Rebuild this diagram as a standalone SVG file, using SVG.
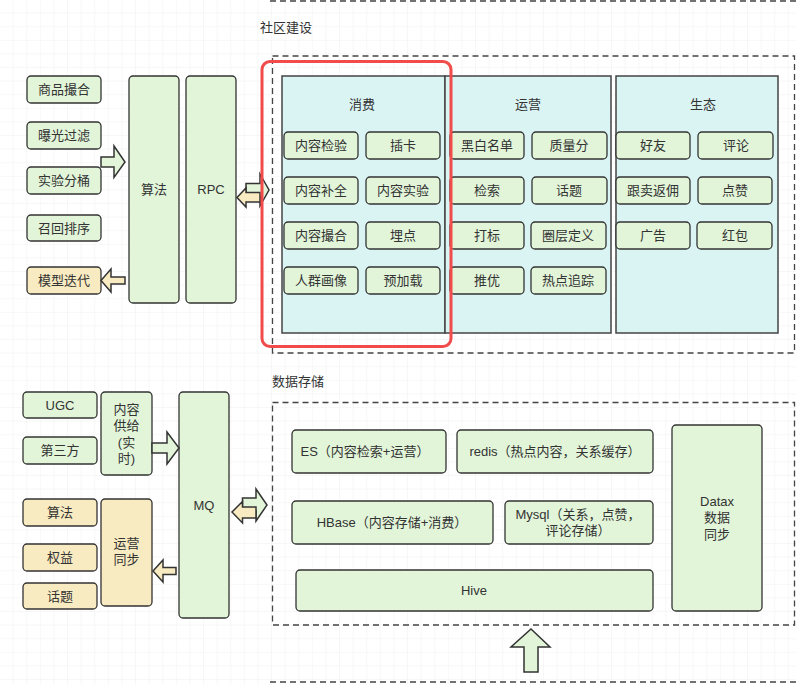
<svg xmlns="http://www.w3.org/2000/svg" width="796" height="685" viewBox="0 0 796 685">
<style>
text{font-family:"Liberation Sans","Noto Sans CJK SC",sans-serif;font-size:13px;fill:#333;text-anchor:middle;dominant-baseline:central}
.lbl{text-anchor:start}
.g{fill:#e2f5d9;stroke:#333;stroke-width:1.3}
.y{fill:#f9ebc1;stroke:#333;stroke-width:1.3}
.c{fill:#daf3f3;stroke:#444;stroke-width:1.5}
.d{fill:none;stroke:#444;stroke-width:1.3;stroke-dasharray:6 4}
.ag{fill:#e2f5d9;stroke:#333;stroke-width:1.5;stroke-linejoin:miter}
.ay{fill:#f9ebc1;stroke:#333;stroke-width:1.5;stroke-linejoin:miter}
</style>
<defs>
<pattern id="grid" width="13.6" height="13.6" patternUnits="userSpaceOnUse">
<path d="M13.6 0V13.6M0 13.6H13.6" fill="none" stroke="#efefef" stroke-width="1"/>
</pattern>
</defs>
<rect width="796" height="685" fill="#fff"/>
<rect width="796" height="685" fill="url(#grid)"/>

<!-- section frames -->
<g id="frames">
<line x1="270" y1="1" x2="796" y2="1" class="d"/>
<text class="lbl" x="260" y="27">社区建设</text>
<rect id="community" x="272.5" y="56" width="522" height="297" class="d"/>
<text class="lbl" x="272" y="381">数据存储</text>
<rect id="storage" x="272.5" y="402.5" width="522" height="222.5" class="d"/>
<line x1="270" y1="682" x2="796" y2="682" class="d"/>
</g>

<!-- top-left algorithm -->
<g id="n-spzh"><rect x="27" y="76" width="74" height="27" rx="4" class="g"/><text x="64" y="89.5">商品撮合</text></g>
<g id="n-bggl"><rect x="27" y="122" width="74" height="27" rx="4" class="g"/><text x="64" y="135.5">曝光过滤</text></g>
<g id="n-syft"><rect x="27" y="167" width="74" height="27" rx="4" class="g"/><text x="64" y="180.5">实验分桶</text></g>
<g id="n-zhpx"><rect x="27" y="215" width="74" height="26" rx="4" class="g"/><text x="64" y="228">召回排序</text></g>
<g id="n-mxdd"><rect x="27" y="267" width="74" height="27" rx="4" class="y"/><text x="64" y="280.5">模型迭代</text></g>
<g id="n-suanfa"><rect x="129" y="76" width="50" height="227" rx="4" class="g"/><text x="154" y="189.5">算法</text></g>
<g id="n-rpc"><rect x="186" y="76" width="50" height="227" rx="4" class="g"/><text x="211" y="189.5">RPC</text></g>

<!-- community columns -->
<g id="col-xf">
<rect x="282" y="76" width="163" height="257" class="c"/>
<text x="362" y="104">消费</text>
<rect x="284" y="132" width="74" height="27" rx="4" class="g"/><text x="321" y="145.5">内容检验</text>
<rect x="366" y="132" width="74" height="27" rx="4" class="g"/><text x="403" y="145.5">插卡</text>
<rect x="284" y="177" width="74" height="27" rx="4" class="g"/><text x="321" y="190.5">内容补全</text>
<rect x="366" y="177" width="74" height="27" rx="4" class="g"/><text x="403" y="190.5">内容实验</text>
<rect x="284" y="222" width="74" height="27" rx="4" class="g"/><text x="321" y="235.5">内容撮合</text>
<rect x="366" y="222" width="74" height="27" rx="4" class="g"/><text x="403" y="235.5">埋点</text>
<rect x="284" y="267" width="74" height="27" rx="4" class="g"/><text x="321" y="280.5">人群画像</text>
<rect x="366" y="267" width="74" height="27" rx="4" class="g"/><text x="403" y="280.5">预加载</text>
</g>
<g id="col-yy">
<rect x="445" y="76" width="166" height="257" class="c"/>
<text x="528" y="104">运营</text>
<rect x="450" y="132" width="74" height="27" rx="4" class="g"/><text x="487" y="145.5">黑白名单</text>
<rect x="532" y="132" width="75" height="27" rx="4" class="g"/><text x="569" y="145.5">质量分</text>
<rect x="450" y="177" width="74" height="27" rx="4" class="g"/><text x="487" y="190.5">检索</text>
<rect x="532" y="177" width="75" height="27" rx="4" class="g"/><text x="569" y="190.5">话题</text>
<rect x="450" y="222" width="74" height="27" rx="4" class="g"/><text x="487" y="235.5">打标</text>
<rect x="531" y="222" width="75" height="27" rx="4" class="g"/><text x="568" y="235.5">圈层定义</text>
<rect x="450" y="267" width="74" height="27" rx="4" class="g"/><text x="487" y="280.5">推优</text>
<rect x="531" y="267" width="75" height="27" rx="4" class="g"/><text x="568" y="280.5">热点追踪</text>
</g>
<g id="col-st">
<rect x="616" y="76" width="162" height="257" class="c"/>
<text x="703" y="104">生态</text>
<rect x="616" y="132" width="74" height="27" rx="4" class="g"/><text x="653" y="145.5">好友</text>
<rect x="698" y="132" width="75" height="27" rx="4" class="g"/><text x="736" y="145.5">评论</text>
<rect x="616" y="177" width="74" height="27" rx="4" class="g"/><text x="653" y="190.5">跟卖返佣</text>
<rect x="698" y="177" width="74" height="27" rx="4" class="g"/><text x="735" y="190.5">点赞</text>
<rect x="616" y="222" width="74" height="27" rx="4" class="g"/><text x="653" y="235.5">广告</text>
<rect x="697" y="222" width="75" height="27" rx="4" class="g"/><text x="735" y="235.5">红包</text>
</g>

<!-- bottom-left -->
<g id="n-ugc"><rect x="23" y="392" width="74" height="26" rx="4" class="g"/><text x="60" y="405">UGC</text></g>
<g id="n-dsf"><rect x="23" y="437" width="74" height="27" rx="4" class="g"/><text x="60" y="450.5">第三方</text></g>
<g id="n-nrgj"><rect x="101" y="392" width="51" height="83" rx="4" class="g"/>
<text x="126.5" y="409">内容</text><text x="126.5" y="425">供给</text><text x="126.5" y="442">(实</text><text x="126.5" y="458">时)</text></g>
<g id="n-sf2"><rect x="23" y="499" width="74" height="27" rx="4" class="y"/><text x="60" y="512.5">算法</text></g>
<g id="n-qy"><rect x="23" y="544" width="74" height="27" rx="4" class="y"/><text x="60" y="557.5">权益</text></g>
<g id="n-ht"><rect x="23" y="583" width="74" height="26" rx="4" class="y"/><text x="60" y="596">话题</text></g>
<g id="n-yytb"><rect x="101" y="499" width="51" height="107" rx="4" class="y"/><text x="126.5" y="543.5">运营</text><text x="126.5" y="559.5">同步</text></g>
<g id="n-mq"><rect x="179" y="392" width="50" height="226" rx="4" class="g"/><text x="204" y="505">MQ</text></g>

<!-- storage -->
<g id="n-es"><rect x="292" y="430" width="154" height="43" rx="4" class="g"/><text x="365" y="451.5">ES（内容检索+运营）</text></g>
<g id="n-redis"><rect x="457" y="430" width="196" height="43" rx="4" class="g"/><text x="555" y="451.5">redis（热点内容，关系缓存）</text></g>
<g id="n-hbase"><rect x="292" y="501" width="201" height="43" rx="4" class="g"/><text x="392" y="522.5">HBase（内容存储+消费）</text></g>
<g id="n-mysql"><rect x="505" y="501" width="148" height="43" rx="4" class="g"/><text x="578" y="514.5">Mysql（关系，点赞，</text><text x="578" y="530.5">评论存储）</text></g>
<g id="n-hive"><rect x="296" y="570" width="357" height="41" rx="4" class="g"/><text x="474" y="590">Hive</text></g>
<g id="n-datax"><rect x="672" y="425" width="90" height="186" rx="4" class="g"/><text x="717" y="501">Datax</text><text x="717" y="517">数据</text><text x="717" y="534">同步</text></g>

<!-- connectors (block arrows) -->
<g id="connectors">
<path class="ag" d="M101,157 L114,157 L114,146 L125,162 L114,177.5 L114,167 L101,167 Z"/>
<path class="ay" d="M125,277 L111,277 L111,269 L101,280.5 L111,292 L111,284 L125,284 Z"/>
<path class="ag" d="M246,183.5 L260,183.5 L260,174 L269,190 L260,206 L260,196 L246,196 Z"/>
<path class="ay" d="M260,192.5 L246,192.5 L246,188 L237,197.5 L246,207 L246,202 L260,202 Z"/>
<path class="ag" d="M152,443 L167,443 L167,432 L179,448 L167,464 L167,453 L152,453 Z"/>
<path class="ay" d="M176,567.5 L163,567.5 L163,560 L153,571 L163,582 L163,574.5 L176,574.5 Z"/>
<path class="ag" d="M242.5,498 L256,498 L256,489 L267,505 L256,521 L256,511 L242.5,511 Z"/>
<path class="ay" d="M256,507 L242.5,507 L242.5,501.5 L232,512 L242.5,523 L242.5,518 L256,518 Z"/>
<path class="ag" d="M524,672 L524,647 L511,647 L531,629 L550,647 L538,647 L538,672 Z"/>
</g>

<rect id="highlight" x="262" y="61.5" width="189" height="285" rx="8" fill="none" stroke="#f24b4b" stroke-width="3"/>
</svg>
